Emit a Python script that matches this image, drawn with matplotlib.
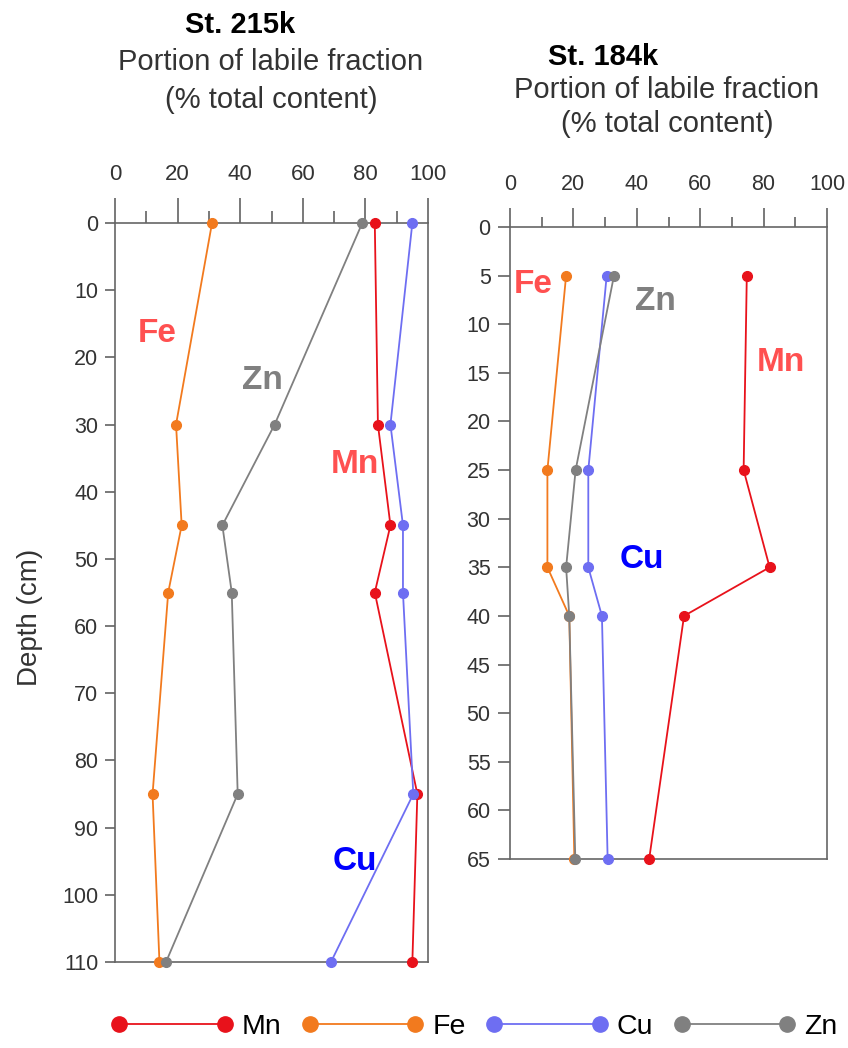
import matplotlib
matplotlib.use("Agg")
import matplotlib.pyplot as plt
from matplotlib.lines import Line2D

plt.rcParams["font.family"] = ["Liberation Sans", "DejaVu Sans"]

# St. 215k
depth_215 = [0, 30, 45, 55, 85, 110]
mn_215 = [83, 84, 88, 83, 96.6, 95]
fe_215 = [31, 19.5, 21.3, 17, 12, 14.2]
cu_215 = [95, 88, 92, 92, 95.3, 69]
zn_215 = [79, 51, 34.3, 37.3, 39.2, 16.3]

# St. 184k
depth_184 = [5, 25, 35, 40, 65]
mn_184 = [74.7, 73.7, 81.9, 54.9, 43.9]
fe_184 = [17.7, 11.8, 11.8, 18.7, 20.3]
cu_184 = [30.5, 24.7, 24.7, 29, 30.8]
zn_184 = [32.8, 20.7, 17.7, 18.7, 20.6]

elements = ["Mn", "Fe", "Cu", "Zn"]
colors = {"Mn": "#e8121b", "Fe": "#f27a1e", "Cu": "#6e6ef2", "Zn": "#808080"}
label_colors = {"Mn": "#ff5050", "Fe": "#ff5050", "Cu": "#0000ff", "Zn": "#808080"}

# in-plot element labels (data coords)
labels_215 = {"Fe": (13.4, 16.4), "Zn": (47, 23.4), "Mn": (76.7, 36), "Cu": (76.7, 95.1)}
labels_184 = {"Fe": (7.3, 5.9), "Zn": (45.8, 7.7), "Mn": (85.6, 13.9), "Cu": (41.7, 34.2)}

W, H = 848, 1048
fig = plt.figure(figsize=(W / 100, H / 100), dpi=100)


def px_axes(x0, x1, y0, y1):
    return fig.add_axes([x0 / W, 1 - y1 / H, (x1 - x0) / W, (y1 - y0) / H])


def style_axis(ax, ymax, yticks, maj_len, min_len, ylen, tick_fs, ylab_fs):
    ax.set_xlim(0, 100)
    ax.set_ylim(ymax, 0)
    ax.xaxis.set_ticks_position("top")
    ax.set_xticks([0, 20, 40, 60, 80, 100])
    ax.set_xticks([10, 30, 50, 70, 90], minor=True)
    ax.set_yticks(yticks)
    ax.tick_params(axis="x", which="major", direction="out", length=maj_len, width=1.1,
                   color="#555555", labelsize=tick_fs, labelcolor="#333333", pad=9)
    ax.tick_params(axis="x", which="minor", direction="out", length=min_len, width=1.1,
                   color="#555555")
    ax.tick_params(axis="y", direction="out", length=ylen, width=1.1, color="#555555",
                   labelsize=ylab_fs, labelcolor="#333333", pad=5)
    for s in ax.spines.values():
        s.set_color("#666666")
        s.set_linewidth(1.2)


def draw(ax, depth, series, labels):
    for el in elements:
        ax.plot(series[el], depth, color=colors[el], lw=1.3, marker="o", ms=7,
                clip_on=False, zorder=3)
    for el, (x, y) in labels.items():
        ax.text(x, y, el, color=label_colors[el], fontsize=24, fontweight="bold",
                ha="center", va="center")


ax1 = px_axes(115, 428, 223, 962)
style_axis(ax1, 110, range(0, 111, 10), 18, 9, 7, 16, 15.5)
draw(ax1, depth_215, {"Mn": mn_215, "Fe": fe_215, "Cu": cu_215, "Zn": zn_215}, labels_215)

ax2 = px_axes(510, 827, 227, 859)
style_axis(ax2, 65, range(0, 66, 5), 14, 7, 9, 15.5, 15.5)
draw(ax2, depth_184, {"Mn": mn_184, "Fe": fe_184, "Cu": cu_184, "Zn": zn_184}, labels_184)

fig.text(30 / W, 1 - 617 / H, "Depth (cm)", rotation=90, fontsize=20, color="#333333",
         ha="center", va="center")

# titles
fig.text(240 / W, 1 - 25 / H, "St. 215k", fontsize=21, fontweight="bold",
         ha="center", va="center")
fig.text(271 / W, 1 - 62 / H, "Portion of labile fraction", fontsize=21, color="#333333",
         ha="center", va="center")
fig.text(271 / W, 1 - 100 / H, "(% total content)", fontsize=21, color="#333333",
         ha="center", va="center")
fig.text(603 / W, 1 - 57 / H, "St. 184k", fontsize=21, fontweight="bold",
         ha="center", va="center")
fig.text(667 / W, 1 - 90 / H, "Portion of labile fraction", fontsize=21, color="#333333",
         ha="center", va="center")
fig.text(667 / W, 1 - 124 / H, "(% total content)", fontsize=21, color="#333333",
         ha="center", va="center")

handles = [Line2D([], [], color=colors[el], lw=1.3, marker="o", ms=11) for el in elements]
fig.legend(handles, elements, loc="center", bbox_to_anchor=(474 / W, 1 - 1027 / H), ncol=4,
           frameon=False, numpoints=2, fontsize=20.5, handlelength=4.3, handletextpad=0.3,
           columnspacing=0.7, borderpad=0)

fig.savefig("out.png", dpi=100)
